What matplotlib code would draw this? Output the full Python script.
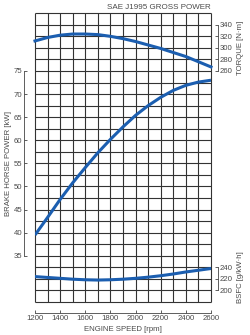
import matplotlib.pyplot as plt
import numpy as np

plt.rcParams['font.family'] = ['Liberation Sans', 'DejaVu Sans']

rpm = [1200, 1300, 1400, 1500, 1600, 1700, 1800, 1900, 2000, 2100, 2200, 2300, 2400, 2500, 2600]
power = [39.5, 43.3, 47.2, 50.8, 54.1, 57.3, 60.2, 62.9, 65.4, 67.5, 69.3, 70.8, 71.9, 72.6, 73.0]
torque = [312, 318, 322, 324, 324, 323, 320, 316, 311, 305, 299, 292, 285, 276, 267]
bsfc = [224, 222.5, 221, 219.5, 218.5, 218, 218.5, 219.5, 221, 223, 225.5, 228.5, 232, 235, 238]

x_ticks = [1200, 1400, 1600, 1800, 2000, 2200, 2400, 2600]
power_ticks = [35, 40, 45, 50, 55, 60, 65, 70, 75]
torque_ticks = [260, 280, 300, 320, 340]
bsfc_ticks = [200, 220, 240]

blue = '#1b5eb0'
txt = '#4a4a4a'
fs = 5.6

fig = plt.figure(figsize=(2.5, 3.35), dpi=100)
ax = fig.add_axes([0.14, 0.0985, 0.704, 0.862])
ax.set_xlim(1200, 2600)
ax.set_ylim(25, 87.5)

# grid
ax.vlines(np.arange(1200, 2601, 100), 25, 87.5, color='#333333', linewidth=0.8, clip_on=False, zorder=1)
ax.hlines(np.arange(25, 87.6, 2.5), 1200, 2600, color='#333333', linewidth=0.8, clip_on=False, zorder=1)

ax.plot(rpm, power, color=blue, linewidth=2.2, zorder=3, solid_capstyle='butt')

for s in ['top', 'right']:
    ax.spines[s].set_visible(False)
ax.spines['left'].set_position(('outward', 8))
ax.spines['left'].set_bounds(35, 75)
ax.spines['bottom'].set_position(('outward', 8))
ax.spines['bottom'].set_bounds(1200, 2600)
for s in ['left', 'bottom']:
    ax.spines[s].set_linewidth(0.6)
    ax.spines[s].set_color('#444444')
ax.set_xticks(x_ticks)
ax.set_yticks(power_ticks)
ax.tick_params(direction='in', length=2.5, width=0.6, labelsize=fs, labelcolor=txt, color='#444444', pad=1)
ax.set_xlabel('ENGINE SPEED [rpm]', fontsize=fs, color=txt, labelpad=3)
ax.set_ylabel('BRAKE HORSE POWER [kW]', fontsize=fs, color=txt)
ax.yaxis.set_label_coords(-0.13, 0.48)

ax2 = ax.twinx()
ax2.set_ylim(-140, 360)
ax2.plot(rpm, torque, color=blue, linewidth=2.2, zorder=3, clip_on=False)
ax3 = ax.twinx()
ax3.set_ylim(180, 680)
ax3.plot(rpm, bsfc, color=blue, linewidth=2.2, zorder=3)

for a, bounds, ticks, label, ly in [(ax2, (260, 340), torque_ticks, 'TORQUE [N·m]', 0.88),
                                    (ax3, (200, 240), bsfc_ticks, 'BSFC [g/kW·h]', 0.085)]:
    for s in ['top', 'left', 'bottom']:
        a.spines[s].set_visible(False)
    a.spines['right'].set_position(('outward', 5))
    a.spines['right'].set_bounds(*bounds)
    a.spines['right'].set_linewidth(0.6)
    a.spines['right'].set_color('#444444')
    a.set_yticks(ticks)
    a.tick_params(direction='in', length=2.5, width=0.6, labelsize=fs, labelcolor=txt, color='#444444', pad=1.5)
    a.set_ylabel(label, fontsize=fs, color=txt)
    a.yaxis.set_label_coords(1.145, ly)

fig.text(0.844, 0.967, 'SAE J1995 GROSS POWER', ha='right', va='bottom', fontsize=5.8, color=txt)

fig.savefig('out.png', dpi=100)
